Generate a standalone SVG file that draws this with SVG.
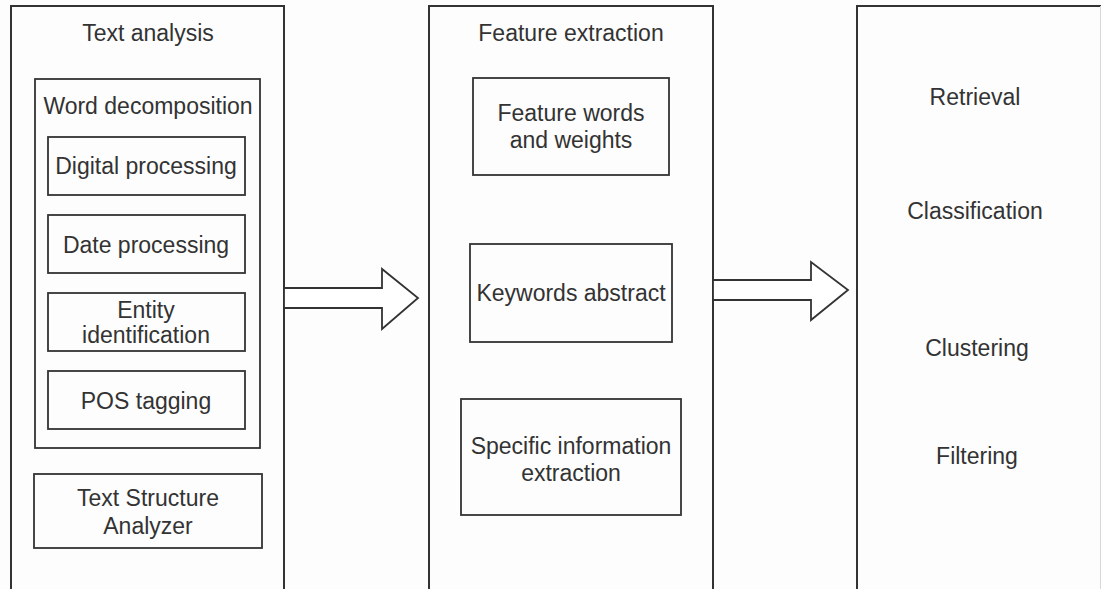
<svg xmlns="http://www.w3.org/2000/svg" width="1101" height="589" viewBox="0 0 1101 589">
  <style>
    .panel { fill: none; stroke: #333; stroke-width: 2; }
    .box { fill: none; stroke: #333; stroke-width: 1.8; }
    .arrow { fill: #fff; stroke: #333; stroke-width: 1.8; stroke-linejoin: miter; }
    text { font-family: "Liberation Sans", Arial, sans-serif; font-size: 23px; fill: #333; text-anchor: middle; }
  </style>
  <rect x="0" y="0" width="1101" height="589" fill="#fdfdfd"/>

  <!-- Stage 1: text analysis -->
  <g id="text-analysis">
    <rect class="panel" x="11" y="6" width="273" height="600"/>
    <text x="148" y="41">Text analysis</text>
  </g>
  <g id="word-decomposition">
    <rect class="box" x="35" y="79" width="225" height="369"/>
    <text x="148" y="114">Word decomposition</text>
  </g>
  <g id="digital-processing">
    <rect class="box" x="48" y="137" width="197" height="58"/>
    <text x="146" y="174">Digital processing</text>
  </g>
  <g id="date-processing">
    <rect class="box" x="48" y="215" width="197" height="58"/>
    <text x="146" y="253">Date processing</text>
  </g>
  <g id="entity-identification">
    <rect class="box" x="48" y="293" width="197" height="58"/>
    <text x="146" y="318">Entity</text>
    <text x="146" y="343">identification</text>
  </g>
  <g id="pos-tagging">
    <rect class="box" x="48" y="371" width="197" height="58"/>
    <text x="146" y="409">POS tagging</text>
  </g>
  <g id="text-structure-analyzer">
    <rect class="box" x="34" y="474" width="228" height="74"/>
    <text x="148" y="506">Text Structure</text>
    <text x="148" y="534">Analyzer</text>
  </g>

  <!-- Stage 2: feature extraction -->
  <g id="feature-extraction">
    <rect class="panel" x="429" y="6" width="284" height="600"/>
    <text x="571" y="41">Feature extraction</text>
  </g>
  <g id="feature-words">
    <rect class="box" x="473" y="78" width="196" height="97"/>
    <text x="571" y="121">Feature words</text>
    <text x="571" y="148">and weights</text>
  </g>
  <g id="keywords-abstract">
    <rect class="box" x="470" y="244" width="202" height="98"/>
    <text x="571" y="301">Keywords abstract</text>
  </g>
  <g id="specific-information">
    <rect class="box" x="461" y="399" width="220" height="116"/>
    <text x="571" y="454">Specific information</text>
    <text x="571" y="481">extraction</text>
  </g>

  <!-- Stage 3: applications (right edge runs along the canvas border) -->
  <g id="applications">
    <path class="panel" d="M1101 6 H857 V606"/>
    <line x1="1100.5" y1="6" x2="1100.5" y2="589" stroke="#d8d8d8" stroke-width="1"/>
    <text x="975" y="105">Retrieval</text>
    <text x="975" y="219">Classification</text>
    <text x="977" y="356">Clustering</text>
    <text x="977" y="464">Filtering</text>
  </g>

  <!-- Block arrows between stages -->
  <g id="connectors">
    <path class="arrow" d="M284 288 H382 V269 L418 298 L382 329 V308 H284 Z"/>
    <path class="arrow" d="M713 280 H811 V262 L848 290 L811 320 V300 H713 Z"/>
  </g>
</svg>
